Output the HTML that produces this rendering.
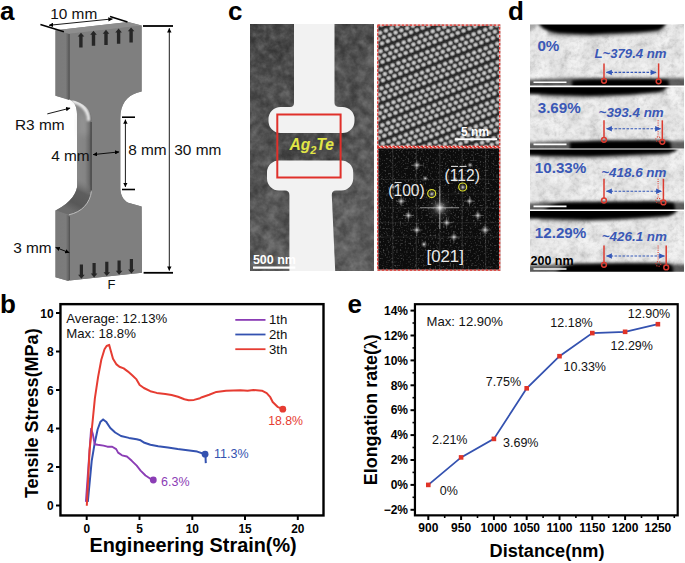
<!DOCTYPE html>
<html><head><meta charset="utf-8">
<style>
html,body{margin:0;padding:0;background:#fff;}
body{width:685px;height:563px;overflow:hidden;}
svg{display:block;font-family:"Liberation Sans",sans-serif;}
</style></head>
<body>
<svg width="685" height="563" viewBox="0 0 685 563">
<defs>
<marker id="ah" viewBox="0 0 10 10" refX="9.5" refY="5" markerUnits="userSpaceOnUse" markerWidth="4.6" markerHeight="4.4" orient="auto-start-reverse"><path d="M0,0 L10,5 L0,10 z" fill="#000"/></marker>
</defs>
<rect width="685" height="563" fill="#fff"/>

<!-- ============ PANEL LABELS ============ -->
<g font-weight="bold" font-size="26" fill="#000">
<text x="0" y="20">a</text>
<text x="228" y="20.4">c</text>
<text x="508" y="19.5">d</text>
<text x="0" y="312.5">b</text>
<text x="347.5" y="313.2">e</text>
</g>


<!-- ============ PANEL A ============ -->
<g id="panela">
<defs>
<linearGradient id="sideg" x1="0" x2="1" y1="0" y2="0">
<stop offset="0" stop-color="#7a7a7a"/><stop offset="0.75" stop-color="#7c7c7c"/><stop offset="1" stop-color="#5c5c5c"/>
</linearGradient>
<linearGradient id="sideg2" gradientUnits="userSpaceOnUse" x1="77" x2="91.6" y1="0" y2="0">
<stop offset="0" stop-color="#888"/><stop offset="0.55" stop-color="#848484"/><stop offset="0.82" stop-color="#6c6c6c"/><stop offset="1" stop-color="#505050"/>
</linearGradient>
<filter id="hlb" x="-0.5" y="-0.5" width="2" height="2"><feGaussianBlur stdDeviation="0.8"/></filter><filter id="hlb2" x="-0.5" y="-0.5" width="2" height="2"><feGaussianBlur stdDeviation="3"/></filter>
<linearGradient id="hl" gradientUnits="userSpaceOnUse" x1="70" y1="112" x2="90" y2="104">
<stop offset="0" stop-color="#8c8c8c"/><stop offset="0.35" stop-color="#a8a8a8"/><stop offset="0.65" stop-color="#eaeaea"/><stop offset="0.82" stop-color="#d0d0d0"/><stop offset="1" stop-color="#707070"/>
</linearGradient>
<linearGradient id="lowfil" gradientUnits="userSpaceOnUse" x1="84" y1="181" x2="70" y2="210">
<stop offset="0" stop-color="#7a7a7a" stop-opacity="0"/><stop offset="0.35" stop-color="#5e5e5e"/><stop offset="0.75" stop-color="#585858"/><stop offset="1" stop-color="#6c6c6c"/>
</linearGradient>
</defs>
<!-- silhouette / side faces -->
<path d="M55.5,30.2 L128.2,22 L141.6,25.5 L141.6,91.4 L137,92.8 C127,96 120.4,104 120.3,118 L120.3,189 C120.8,197 125,202 130,203.3 L141.6,206.6 L142,272.8 L69.3,280.6 L67.7,280.8 L55.5,277.3 L55.5,210.5 C72,202 77,192 77.5,183.9 L77,114 C77,105 73,100.5 68.5,99.2 L55.5,95.7 Z" fill="#7b7b7b"/>
<!-- upper grip side -->
<path d="M55.5,30.2 L69,33.7 L69,100 L55.5,95.7 Z" fill="url(#sideg)"/>
<!-- narrow side -->
<rect x="77" y="110" width="14.4" height="82" fill="url(#sideg2)"/>
<!-- upper fillet highlight -->
<path d="M68.5,99.2 C74,101 77,106 77,114 L77,121 L91.4,121 L91.4,118 C90.5,110 85,103 70.5,99.8 Z" fill="url(#sideg2)"/>
<path d="M72,101 C81,103.2 86.6,107.6 88.4,116.5 L88.6,121" fill="none" stroke="#eeeeee" stroke-width="3.4" filter="url(#hlb)"/>
<path d="M79,112 L88,118 L88,135 L79,135 Z" fill="#b0b0b0" opacity="0.35" filter="url(#hlb2)"/>
<!-- lower fillet -->
<path d="M77,178 L77.5,183.9 C77,192 72,202 55.7,210.5 L68.9,214.8 C82,212 90,203 91.4,191.3 L91.4,178 Z" fill="url(#lowfil)"/>
<!-- lower grip side -->
<path d="M55.5,210.3 L69.3,216.1 L69.3,280.6 L67.7,280.8 L55.5,277.3 Z" fill="url(#sideg)"/>
<!-- front face -->
<path d="M69.6,33.7 L141.6,25.5 L141.6,91.4 L137,92.8 C127,96 120.4,104 120.3,118 L120.3,189 C120.8,197 125,202 130,203.3 L141.6,206.6 L142,272.8 L69.8,280.6 L69.8,215 C82,212.2 90.2,203 91.6,191.3 L91.6,118 C90.7,110 85,103 70.5,99.8 L69.6,99.6 Z" fill="#7f7f7f"/>
<!-- top face -->
<path d="M55.5,30.2 L128.2,22 L141.6,25.5 L69,33.7 Z" fill="#8e8e8e"/>
<!-- edge lines -->
<line x1="69.3" y1="34" x2="69.3" y2="99" stroke="#555" stroke-width="1"/>
<line x1="91.2" y1="122" x2="91.2" y2="190" stroke="#4a4a4a" stroke-width="1.2"/>
<line x1="69.5" y1="216.5" x2="69.5" y2="280" stroke="#555" stroke-width="1"/>
<path d="M68.9,214.8 C82,212 90,203 91.4,191.3" fill="none" stroke="#cfcfcf" stroke-width="0.8"/>
<!-- arrows up -->
<g fill="#262626">
<path d="M79.2,47.6 L79.2,36.6 L77.7,36.6 L81,32.7 L84.3,36.6 L82.6,36.6 L82.6,47.6 Z"/>
<path d="M91.8,45.8 L91.8,34.7 L90.2,34.7 L93.5,30.8 L96.8,34.7 L95.2,34.7 L95.2,45.8 Z"/>
<path d="M104.3,45 L104.3,33.7 L102.7,33.7 L106,29.8 L109.3,33.7 L107.7,33.7 L107.7,45 Z"/>
<path d="M116.9,43.8 L116.9,32.5 L115.3,32.5 L118.6,28.6 L121.9,32.5 L120.3,32.5 L120.3,43.8 Z"/>
<path d="M129.4,42.5 L129.4,31.3 L127.8,31.3 L131.1,27.4 L134.4,31.3 L132.8,31.3 L132.8,42.5 Z"/>
</g>
<!-- arrows down -->
<g fill="#262626">
<path d="M79.8,264.4 L79.8,274.8 L78.1,274.8 L81.4,278.7 L84.7,274.8 L83,274.8 L83,264.4 Z"/>
<path d="M92.5,263.1 L92.5,273.5 L90.8,273.5 L94.1,277.4 L97.4,273.5 L95.7,273.5 L95.7,263.1 Z"/>
<path d="M105.2,261.8 L105.2,272.2 L103.5,272.2 L106.8,276.1 L110.1,272.2 L108.4,272.2 L108.4,261.8 Z"/>
<path d="M117.5,260.4 L117.5,270.8 L115.8,270.8 L119.1,274.7 L122.4,270.8 L120.7,270.8 L120.7,260.4 Z"/>
<path d="M129.8,259.1 L129.8,269.5 L128.1,269.5 L131.4,273.4 L134.7,269.5 L133,269.5 L133,259.1 Z"/>
</g>
<!-- dimension lines -->
<g stroke="#000" fill="none">
<line x1="40.4" y1="24.5" x2="63.9" y2="31.8" stroke-width="1.6"/>
<line x1="110" y1="16.5" x2="127.5" y2="22" stroke-width="1.6"/>
<line x1="49" y1="25.3" x2="112.5" y2="18.9" stroke-width="0.9" marker-start="url(#ah)" marker-end="url(#ah)"/>
<line x1="143" y1="26" x2="173" y2="26" stroke-width="1.8"/>
<line x1="143.6" y1="272.8" x2="173" y2="272.8" stroke-width="1.8"/>
<line x1="169.3" y1="28.3" x2="169.3" y2="270.6" stroke-width="0.9" marker-start="url(#ah)" marker-end="url(#ah)"/>
<line x1="122" y1="117.2" x2="135" y2="117.2" stroke-width="1.6"/>
<line x1="122" y1="189.5" x2="135" y2="189.5" stroke-width="1.6"/>
<line x1="125.4" y1="119.6" x2="125.4" y2="186.9" stroke-width="0.9" marker-start="url(#ah)" marker-end="url(#ah)"/>
<line x1="93.1" y1="154.6" x2="119.1" y2="151.9" stroke-width="0.9" marker-start="url(#ah)" marker-end="url(#ah)"/>
<line x1="47.3" y1="113.9" x2="70.1" y2="108.1" stroke-width="0.9" marker-end="url(#ah)"/>
<line x1="55.6" y1="247.4" x2="69.3" y2="252.7" stroke-width="0.9" marker-start="url(#ah)" marker-end="url(#ah)"/>
</g>
<g font-size="15.4" fill="#111">
<text x="50.2" y="19.4">10 mm</text>
<text x="15" y="129.8">R3 mm</text>
<text x="51.2" y="160.6">4 mm</text>
<text x="128.2" y="154.6">8 mm</text>
<text x="174.3" y="154.6">30 mm</text>
<text x="13.2" y="252.9">3 mm</text>
<text x="107.5" y="289" font-size="13">F</text>
</g>
</g>


<!-- ============ PANEL C ============ -->
<g id="panelc">
<defs>
<filter id="tn" x="0" y="0" width="1" height="1" color-interpolation-filters="sRGB">
<feTurbulence type="fractalNoise" baseFrequency="0.18" numOctaves="3" seed="3" result="n"/>
<feColorMatrix type="matrix" values="0 0 0 0 0.5  0 0 0 0 0.5  0 0 0 0 0.5  0.9 0 0 0 -0.35"/>
</filter>
<filter id="tn2" x="0" y="0" width="1" height="1" color-interpolation-filters="sRGB">
<feTurbulence type="fractalNoise" baseFrequency="0.05" numOctaves="2" seed="7"/>
<feColorMatrix type="matrix" values="0 0 0 0 0  0 0 0 0 0  0 0 0 0 0  -1.2 0 0 0 0.75"/>
</filter>
<filter id="tn3" x="0" y="0" width="1" height="1" color-interpolation-filters="sRGB">
<feTurbulence type="fractalNoise" baseFrequency="0.12" numOctaves="3" seed="21"/>
<feColorMatrix type="matrix" values="1.5 0 0 0 -0.25  1.5 0 0 0 -0.25  1.5 0 0 0 -0.25  0 0 0 0 1"/>
</filter>
<filter id="fftn" x="0" y="0" width="1" height="1" color-interpolation-filters="sRGB">
<feTurbulence type="fractalNoise" baseFrequency="0.6" numOctaves="1" seed="4"/>
<feColorMatrix type="matrix" values="0 0 0 0 0.8  0 0 0 0 0.8  0 0 0 0 0.8  2.5 0 0 0 -1.35"/>
</filter>
<filter id="bl1"><feGaussianBlur stdDeviation="0.6"/></filter><filter id="bl3" x="-0.3" y="-0.3" width="1.6" height="1.6"><feGaussianBlur stdDeviation="4"/></filter>
<clipPath id="ctem"><rect x="250" y="24" width="124" height="247"/></clipPath>
<radialGradient id="blob"><stop offset="0" stop-color="#dcdcdc"/><stop offset="0.5" stop-color="#b0b0b0"/><stop offset="0.8" stop-color="#7a7a7a" stop-opacity="0.8"/><stop offset="1" stop-color="#505050" stop-opacity="0"/></radialGradient>
<pattern id="lat" width="6.2" height="17.4" patternUnits="userSpaceOnUse" patternTransform="translate(378,30) rotate(-21)">
<rect width="6.2" height="17.4" fill="#303030"/>
<ellipse cx="1" cy="3.4" rx="3.1" ry="2.9" fill="url(#blob)"/>
<ellipse cx="7.2" cy="3.4" rx="3.1" ry="2.9" fill="url(#blob)"/>
<ellipse cx="3.1" cy="8.7" rx="3.1" ry="2.9" fill="url(#blob)"/>
<ellipse cx="5.2" cy="14" rx="3.1" ry="2.9" fill="url(#blob)"/>
<ellipse cx="-1" cy="14" rx="3.1" ry="2.9" fill="url(#blob)"/>
</pattern>
<pattern id="stripes" width="200" height="17.4" patternUnits="userSpaceOnUse" patternTransform="translate(378,30) rotate(-21)">
<rect y="16" width="200" height="2.6" fill="#000" opacity="0.18"/>
</pattern>
<filter id="lblur" x="0" y="0" width="1" height="1"><feGaussianBlur stdDeviation="0.65"/></filter>
<radialGradient id="spot"><stop offset="0" stop-color="#fff" stop-opacity="0.9"/><stop offset="0.4" stop-color="#ccc" stop-opacity="0.45"/><stop offset="1" stop-color="#888" stop-opacity="0"/></radialGradient>
</defs>
<!-- left TEM -->
<g clip-path="url(#ctem)">
<linearGradient id="temg" x1="0" y1="0" x2="0.35" y2="1">
<stop offset="0" stop-color="#464646"/><stop offset="0.45" stop-color="#555"/><stop offset="1" stop-color="#626262"/>
</linearGradient>
<rect x="250" y="24" width="124" height="247" fill="url(#temg)"/>
<rect x="276" y="131" width="70" height="31" fill="#3a3a3a" opacity="0.5" filter="url(#bl3)"/>
<rect x="250" y="24" width="124" height="247" filter="url(#tn2)" opacity="0.4"/>
<rect x="250" y="24" width="124" height="247" filter="url(#tn)" opacity="0.5"/>
<rect x="250" y="24" width="124" height="247" filter="url(#tn3)" style="mix-blend-mode:soft-light" opacity="0.35"/>
<path d="M294,24 L334.5,24 L334.5,103 Q334.5,107 340,107 L342.5,107 A12,12 0 0 1 354.5,119 L354.5,121 A12,12 0 0 1 342.5,133 L280.5,133 A12,12 0 0 1 268.5,121 L268.5,119 A12,12 0 0 1 280.5,107 L290,107 Q294,107 294,103 Z" fill="#f2f2f2"/>
<path d="M267,172 A12,12 0 0 1 279,160.4 L341,160.4 A12,12 0 0 1 353.2,172.4 L353.2,178.5 A12,12 0 0 1 341.2,190.5 L336,190.5 Q331.8,190.5 331.8,195 L335.2,271 L289.4,271 L289.4,195 Q289.4,190.5 285,190.5 L279,190.5 A12,12 0 0 1 267,178.5 Z" fill="#f2f2f2"/>
</g>
<rect x="277.3" y="114.5" width="63.3" height="63" fill="none" stroke="#e0302a" stroke-width="2"/>
<text x="289.4" y="150.2" font-weight="bold" font-style="italic" font-size="15.6" fill="#e2e646">Ag<tspan font-size="11" dy="3.6">2</tspan><tspan dy="-3.6">Te</tspan></text>
<line x1="253" y1="267.7" x2="295.3" y2="267.7" stroke="#fff" stroke-width="2.2"/>
<text x="252.9" y="263.8" font-weight="bold" font-size="12.5" fill="#fff">500 nm</text>

<!-- HRTEM -->
<g>
<g filter="url(#lblur)"><rect x="377.2" y="24.6" width="123" height="122.3" fill="url(#lat)"/>
<rect x="377.2" y="24.6" width="123" height="122.3" fill="url(#stripes)"/></g>
<line x1="455.1" y1="139.3" x2="497.1" y2="139.3" stroke="#fff" stroke-width="2"/>
<text x="461.1" y="135.6" font-weight="bold" font-size="12" fill="#fff">5 nm</text>
<rect x="377.7" y="25.1" width="122" height="121.3" fill="none" stroke="#f4d0cc" stroke-width="1.2"/><rect x="377.7" y="25.1" width="122" height="121.3" fill="none" stroke="#e0302a" stroke-width="1.2" stroke-dasharray="2.5,1.5"/>
</g>

<!-- FFT -->
<g>
<rect x="377.2" y="147.2" width="123" height="123.5" fill="#0c0c0c"/>
<rect x="377.2" y="147.2" width="123" height="123.5" filter="url(#fftn)" opacity="0.5"/>
<g stroke="#fff" stroke-width="0.8" opacity="0.16">
<line x1="392.8" y1="148" x2="392.8" y2="270"/>
<line x1="416.3" y1="148" x2="416.3" y2="270"/>
<line x1="439.8" y1="148" x2="439.8" y2="270"/>
<line x1="462.2" y1="148" x2="462.2" y2="270"/>
<line x1="485.7" y1="148" x2="485.7" y2="270"/>
</g>
<g stroke="#fff" stroke-width="0.8" opacity="0.09">
<line x1="378" y1="207.8" x2="500" y2="207.8"/>
<line x1="378" y1="194" x2="500" y2="194"/>
<line x1="378" y1="222.7" x2="500" y2="222.7"/>
<line x1="378" y1="179.5" x2="500" y2="179.5"/>
<line x1="378" y1="237" x2="500" y2="237"/>
</g>
<circle cx="439.8" cy="207.8" r="14" fill="url(#spot)" opacity="0.35"/>
<g stroke="#d8d8d8" stroke-width="1.1" opacity="0.6">
<line x1="420" y1="207.8" x2="459" y2="207.8"/>
<line x1="439.8" y1="186" x2="439.8" y2="229"/>
</g>
<circle cx="439.8" cy="207.8" r="7" fill="url(#spot)"/>
<g fill="url(#spot)">
<circle cx="416.8" cy="165.2" r="4"/>
<circle cx="425.2" cy="178.4" r="3"/>
<circle cx="401.2" cy="201.2" r="4"/>
<circle cx="408.4" cy="215.5" r="4"/>
<circle cx="416.8" cy="230" r="4"/>
<circle cx="424" cy="244.3" r="3.5"/>
<circle cx="446.7" cy="222.7" r="4"/>
<circle cx="453.9" cy="237.1" r="4"/>
<circle cx="469.5" cy="201.2" r="3.5"/>
<circle cx="477.9" cy="215.5" r="4"/>
<circle cx="485.1" cy="230" r="4.5"/>
<circle cx="431.9" cy="194" r="3.5"/>
<circle cx="462.8" cy="187.2" r="3.5"/>
<circle cx="455" cy="179.5" r="3"/>
<circle cx="393" cy="187" r="3"/>
<circle cx="470" cy="165" r="3"/>
</g>
<g stroke="#bbb" stroke-width="0.6" opacity="0.6">
<line x1="411" y1="165.2" x2="422.6" y2="165.2"/><line x1="416.8" y1="160" x2="416.8" y2="170.4"/>
<line x1="396" y1="201.2" x2="406.4" y2="201.2"/><line x1="401.2" y1="196" x2="401.2" y2="206.4"/>
<line x1="403" y1="215.5" x2="413.8" y2="215.5"/><line x1="408.4" y1="210" x2="408.4" y2="221"/>
<line x1="411" y1="230" x2="422.6" y2="230"/><line x1="416.8" y1="224" x2="416.8" y2="236"/>
<line x1="441" y1="222.7" x2="452.4" y2="222.7"/><line x1="446.7" y1="217" x2="446.7" y2="228.4"/>
<line x1="448" y1="237.1" x2="459.8" y2="237.1"/><line x1="453.9" y1="231" x2="453.9" y2="243"/>
<line x1="472" y1="215.5" x2="483.8" y2="215.5"/><line x1="477.9" y1="210" x2="477.9" y2="221"/>
<line x1="479" y1="230" x2="491.2" y2="230"/><line x1="485.1" y1="224" x2="485.1" y2="236"/>
<line x1="464" y1="201.2" x2="475" y2="201.2"/><line x1="469.5" y1="196" x2="469.5" y2="206.4"/>
</g>
<circle cx="431.7" cy="193.6" r="4" fill="none" stroke="#dde030" stroke-width="1.2"/>
<circle cx="462.7" cy="187" r="4" fill="none" stroke="#dde030" stroke-width="1.2"/>
<g fill="#e8e8e8" font-size="15.6">
<text x="388.3" y="196.3">(100)</text>
<text x="444.6" y="180.6">(112)</text>
<text x="426.5" y="262.3" font-size="16.8">[021]</text>
</g>
<g stroke="#e8e8e8" stroke-width="1">
<line x1="394.6" y1="182.6" x2="401.6" y2="182.6"/>
<line x1="451" y1="166.4" x2="458" y2="166.4"/>
<line x1="459.6" y1="166.4" x2="466.6" y2="166.4"/>
</g>
<rect x="377.7" y="147.7" width="122" height="122.5" fill="none" stroke="#f4d0cc" stroke-width="1.2"/><rect x="377.7" y="147.7" width="122" height="122.5" fill="none" stroke="#e0302a" stroke-width="1.2" stroke-dasharray="2.5,1.5"/>
</g>
</g>


<!-- ============ PANEL D ============ -->
<g id="paneld">
<defs>
<filter id="dn" x="0" y="0" width="1" height="1" color-interpolation-filters="sRGB">
<feTurbulence type="fractalNoise" baseFrequency="0.28" numOctaves="3" seed="11"/>
<feColorMatrix type="matrix" values="0 0 0 0 0.6  0 0 0 0 0.6  0 0 0 0 0.6  1.4 0 0 0 -0.55"/>
</filter>
<filter id="dn2" x="0" y="0" width="1" height="1" color-interpolation-filters="sRGB">
<feTurbulence type="fractalNoise" baseFrequency="0.06" numOctaves="2" seed="5"/>
<feColorMatrix type="matrix" values="0 0 0 0 1  0 0 0 0 1  0 0 0 0 1  1.6 0 0 0 -0.55"/>
</filter>
<filter id="dn3" x="0" y="0" width="1" height="1" color-interpolation-filters="sRGB">
<feTurbulence type="fractalNoise" baseFrequency="0.1" numOctaves="3" seed="9"/>
<feColorMatrix type="matrix" values="1.8 0 0 0 -0.4  1.8 0 0 0 -0.4  1.8 0 0 0 -0.4  0 0 0 0 1"/>
</filter>
<filter id="bb" x="-0.1" y="-0.5" width="1.2" height="2"><feGaussianBlur stdDeviation="1.6"/></filter>
<clipPath id="cs1"><rect x="530" y="24.4" width="154" height="61"/></clipPath>
<clipPath id="cs2"><rect x="530" y="87.2" width="154" height="61.3"/></clipPath>
<clipPath id="cs3"><rect x="530" y="149.6" width="154" height="60"/></clipPath>
<clipPath id="cs4"><rect x="530" y="210.9" width="154" height="60.9"/></clipPath>
<marker id="bah" viewBox="0 0 10 10" refX="9" refY="5" markerUnits="userSpaceOnUse" markerWidth="6.5" markerHeight="6" orient="auto-start-reverse"><path d="M0,0.5 L10,5 L0,9.5 z" fill="#3558b8"/></marker>
</defs>
<!-- strip 1 -->
<g clip-path="url(#cs1)">
<rect x="530" y="24.4" width="154" height="61" fill="#e3e3e3"/>
<rect x="530" y="24.4" width="154" height="61" filter="url(#dn2)" opacity="0.75"/>
<rect x="530" y="24.4" width="154" height="61" filter="url(#dn)" opacity="0.35"/>
<rect x="530" y="24.4" width="154" height="61" filter="url(#dn3)" style="mix-blend-mode:soft-light" opacity="0.6"/>
<g filter="url(#bb)" fill="#060606">
<path d="M526,18 L541,18 Q538,26 530,31 L526,32 Z" opacity="0.3"/>
<path d="M536,18 L668,18 Q667,26 660,30 Q650,32 625,33 L590,34.5 L560,33.5 Q546,32 540,26 Z"/>
<path d="M548,36 Q600,40 660,33 L660,30 L548,30 Z" opacity="0.25"/>
<path d="M528,79.5 L570,78 L690,78 L690,90 L528,90 Z" opacity="0.6"/>
<path d="M572,80.5 Q585,79 600,79.2 L650,79 Q664,79 668,80 L670,90 L572,90 Z"/>
</g>
</g>
<!-- strip 2 -->
<g clip-path="url(#cs2)">
<rect x="530" y="87.2" width="154" height="61.3" fill="#e3e3e3"/>
<rect x="530" y="87.2" width="154" height="61.3" filter="url(#dn2)" opacity="0.75"/>
<rect x="530" y="87.2" width="154" height="61.3" filter="url(#dn)" opacity="0.35"/>
<rect x="530" y="87.2" width="154" height="61.3" filter="url(#dn3)" style="mix-blend-mode:soft-light" opacity="0.6"/>
<g filter="url(#bb)" fill="#060606">
<path d="M526,82 L670,82 Q668,90 658,92 L630,94.5 L590,96 L550,95 Q535,94 526,94 Z"/>
<path d="M540,98 Q600,101 665,93 L665,90 L540,90 Z" opacity="0.25"/>
<path d="M528,142.5 L565,141 L690,141 L690,152 L528,152 Z" opacity="0.6"/>
<path d="M570,142 Q590,140.5 610,140.3 L650,140 Q666,140 670,141 L672,152 L570,152 Z"/>
</g>
</g>
<!-- strip 3 -->
<g clip-path="url(#cs3)">
<rect x="530" y="149.6" width="154" height="60" fill="#e3e3e3"/>
<rect x="530" y="149.6" width="154" height="60" filter="url(#dn2)" opacity="0.75"/>
<rect x="530" y="149.6" width="154" height="60" filter="url(#dn)" opacity="0.35"/>
<rect x="530" y="149.6" width="154" height="60" filter="url(#dn3)" style="mix-blend-mode:soft-light" opacity="0.6"/>
<g filter="url(#bb)" fill="#060606">
<path d="M526,145 L678,145 Q678,152 668,153.5 L630,155 L590,156.5 L550,156 Q535,155.5 526,155.5 Z"/>
<path d="M540,159 Q600,161 670,155 L670,152 L540,152 Z" opacity="0.25"/>
<path d="M528,203.5 L545,202 L690,202 L690,214 L528,214 Z" opacity="0.6"/>
<path d="M542,214 Q548,203 565,202 L620,201.5 L660,201.3 Q672,201.5 674,203 L676,214 Z"/>
</g>
</g>
<!-- strip 4 -->
<g clip-path="url(#cs4)">
<rect x="530" y="210.9" width="154" height="60.9" fill="#e3e3e3"/>
<rect x="530" y="210.9" width="154" height="60.9" filter="url(#dn2)" opacity="0.75"/>
<rect x="530" y="210.9" width="154" height="60.9" filter="url(#dn)" opacity="0.35"/>
<rect x="530" y="210.9" width="154" height="60.9" filter="url(#dn3)" style="mix-blend-mode:soft-light" opacity="0.6"/>
<g filter="url(#bb)" fill="#060606">
<path d="M526,206 L678,206 Q678,214 668,216 L630,218.5 L590,220 L550,219 Q535,218.5 526,218.5 Z"/>
<path d="M540,222 Q600,224 670,217 L670,214 L540,214 Z" opacity="0.25"/>
<path d="M528,265.5 L560,264.5 L690,264.5 L690,276 L528,276 Z" opacity="0.6"/>
<path d="M555,276 Q560,264.5 575,263.5 L620,263 L660,263 Q670,263.2 672,265 L674,276 Z"/>
</g>
</g>
<!-- scale bars -->
<g stroke="#fff" stroke-width="1.6">
<line x1="533.5" y1="82.3" x2="566.5" y2="82.3"/>
<line x1="533.5" y1="144.4" x2="566.5" y2="144.4"/>
<line x1="533.5" y1="206.4" x2="566.5" y2="206.4"/>
<line x1="533.5" y1="269" x2="566.5" y2="269"/>
</g>
<g font-weight="bold" fill="#3a58b6" font-size="15.2">
<text x="537.4" y="50.8">0%</text>
<text x="537.7" y="113">3.69%</text>
<text x="534.8" y="173.3">10.33%</text>
<text x="534.8" y="238">12.29%</text>
</g>
<g font-weight="bold" font-style="italic" fill="#3a58b6" font-size="13.4">
<text x="594.4" y="57.8" font-size="13.2">L~379.4 nm</text>
<text x="598.6" y="116.6">~393.4 nm</text>
<text x="601.3" y="176.5">~418.6 nm</text>
<text x="601.8" y="240.8">~426.1 nm</text>
</g>
<text x="530.5" y="264.8" font-weight="bold" font-size="12.5" fill="#000">200 nm</text>
<!-- red markers -->
<g stroke="#dc3b30" stroke-width="1.5" fill="none">
<line x1="604" y1="63.4" x2="604" y2="78.5"/><circle cx="604" cy="80.8" r="2.4"/>
<line x1="658.6" y1="63.4" x2="658.6" y2="79.0"/><circle cx="658.6" cy="81.3" r="2.4"/>
<line x1="604" y1="120.3" x2="604" y2="137.5"/><circle cx="604" cy="139.8" r="2.4"/>
<line x1="662.3" y1="120.3" x2="662.3" y2="139.5"/><circle cx="662.3" cy="141.8" r="2.4"/>
<line x1="604" y1="178.8" x2="604" y2="198.2"/><circle cx="604" cy="200.5" r="2.4"/>
<line x1="663.4" y1="178.8" x2="663.4" y2="200.1"/><circle cx="663.4" cy="202.4" r="2.4"/>
<line x1="604" y1="245.4" x2="604" y2="262.5"/><circle cx="604" cy="264.8" r="2.4"/>
<line x1="666.2" y1="245.4" x2="666.2" y2="265.1"/><circle cx="666.2" cy="267.4" r="2.4"/>
</g>
<g stroke="#dc3b30" stroke-width="1.1" fill="none" stroke-dasharray="1,1.2">
<line x1="658.1" y1="120.3" x2="658.1" y2="136.5"/>
<line x1="658.1" y1="178.8" x2="658.1" y2="197.5"/>
<line x1="658.1" y1="245.4" x2="658.1" y2="261"/>
<circle cx="658.3" cy="139.2" r="2.4"/>
<circle cx="658.3" cy="200.6" r="2.4"/>
<circle cx="658.4" cy="264" r="2.4"/>
</g>
<!-- blue arrows -->
<g stroke="#3558b8" stroke-width="1.1" stroke-dasharray="2.6,1.4" fill="none">
<line x1="606.5" y1="72.4" x2="656" y2="72.4" marker-start="url(#bah)" marker-end="url(#bah)"/>
<line x1="606.5" y1="128.7" x2="660.5" y2="128.7" marker-start="url(#bah)" marker-end="url(#bah)"/>
<line x1="606.5" y1="191.3" x2="661.5" y2="191.3" marker-start="url(#bah)" marker-end="url(#bah)"/>
<line x1="606.5" y1="256" x2="664.5" y2="256" marker-start="url(#bah)" marker-end="url(#bah)"/>
</g>
</g>

<!-- ============ PANEL B ============ -->
<g id="panelb">
<rect x="60.45" y="304.15" width="263.05" height="211.3" fill="none" stroke="#000" stroke-width="2.4"/>
<g stroke="#000" stroke-width="2">
<line x1="56" y1="505.5" x2="61" y2="505.5"/>
<line x1="56" y1="467" x2="61" y2="467"/>
<line x1="56" y1="428.5" x2="61" y2="428.5"/>
<line x1="56" y1="390" x2="61" y2="390"/>
<line x1="56" y1="351.5" x2="61" y2="351.5"/>
<line x1="56" y1="313" x2="61" y2="313"/>
<line x1="86.7" y1="515" x2="86.7" y2="520"/>
<line x1="139.5" y1="515" x2="139.5" y2="520"/>
<line x1="192.3" y1="515" x2="192.3" y2="520"/>
<line x1="245" y1="515" x2="245" y2="520"/>
<line x1="297.8" y1="515" x2="297.8" y2="520"/>
</g>
<g font-weight="bold" font-size="11.9" fill="#000" text-anchor="end">
<text x="53.5" y="510.2">0</text>
<text x="53.5" y="471.7">2</text>
<text x="53.5" y="433.2">4</text>
<text x="53.5" y="394.7">6</text>
<text x="53.5" y="356.2">8</text>
<text x="53.5" y="317.7">10</text>
</g>
<g font-weight="bold" font-size="11.9" fill="#000" text-anchor="middle">
<text x="86.7" y="532.5">0</text>
<text x="139.5" y="532.5">5</text>
<text x="192.3" y="532.5">10</text>
<text x="245" y="532.5">15</text>
<text x="297.8" y="532.5">20</text>
</g>
<text x="89.4" y="551.5" font-weight="bold" font-size="19.85" fill="#000">Engineering Strain(%)</text>
<text transform="translate(37.8,498.1) rotate(-90)" font-weight="bold" font-size="18" fill="#000">Tensile Stress(MPa)</text>
<g font-size="13.2" fill="#111">
<text x="66.3" y="322.5">Average: 12.13%</text>
<text x="66.3" y="338.2">Max: 18.8%</text>
<text x="269" y="324.3">1th</text>
<text x="269" y="338.9">2th</text>
<text x="269" y="353.6">3th</text>
</g>
<line x1="235.3" y1="319.9" x2="265.5" y2="319.9" stroke="#8b3db5" stroke-width="1.8"/>
<line x1="235.3" y1="334.5" x2="265.5" y2="334.5" stroke="#3452b0" stroke-width="1.8"/>
<line x1="235.3" y1="349.2" x2="265.5" y2="349.2" stroke="#e63c32" stroke-width="1.8"/>


<polyline fill="none" stroke="#3452b0" stroke-width="2" stroke-linejoin="round" points="87.8,501.9 91.7,460.8 94.7,443.2 97.6,429.5 100.5,421.7 103.1,419.4 106.4,422.1 110.3,428 115.2,432.5 121,436 128.9,437.9 136.7,439.3 140.6,440.3 144.5,442.8 150.4,444.8 158.2,446.2 167.9,447.5 177.7,449.1 189.4,450.5 197.2,451.6 205.1,454.2"/>
<line x1="205.4" y1="454.2" x2="205.8" y2="463.1" stroke="#3452b0" stroke-width="2"/>
<circle cx="205.1" cy="454.2" r="3.4" fill="#3452b0"/>
<polyline fill="none" stroke="#8b3db5" stroke-width="1.9" stroke-linejoin="round" points="85.9,501.9 91.1,428.6 92.7,433.5 94.7,444.2 97.6,444.8 103.5,445.6 107.4,446.7 112.2,446.7 116.2,449.1 118.1,452.6 122,455.3 126.9,456.5 131.8,460.8 136.7,465.7 140.6,470.6 145.5,475.5 150.4,478.8 153.3,480"/>
<circle cx="153.3" cy="480" r="3.4" fill="#8b3db5"/>
<polyline fill="none" stroke="#e63c32" stroke-width="2" stroke-linejoin="round" points="86.8,505.8 89.6,450 92.8,419.5 94.9,398.2 98.1,376.9 101.3,359.8 104.5,349.2 106.6,346 109.2,344.9 110.9,351.3 113,358.8 116.2,364.1 119.4,366.7 123.7,368.4 128,371.6 132.2,375.2 136.5,379.4 139.7,385 143.9,388 150.3,391.2 156.7,392.9 165.3,393.9 171.6,395 178,396.7 184.4,399.3 188.7,400.3 194,399.9 200,398.2 202,397.2 209.2,394.8 216.4,391.9 226,390.7 240.4,390.2 247.6,390.7 253.5,390 261.9,390.7 266.7,393.1 270.3,397.2 272.7,402 277.5,406.8 282.8,409.2"/>
<circle cx="282.8" cy="409.2" r="3.4" fill="#e63c32"/>
<text x="161.1" y="485.6" font-size="12.5" fill="#8b3db5">6.3%</text>
<text x="214" y="458.3" font-size="12.5" fill="#3452b0">11.3%</text>
<text x="268.2" y="425.2" font-size="12.3" fill="#e63c32">18.8%</text>
</g>

<!-- ============ PANEL E ============ -->
<g id="panele">
<rect x="414.95" y="304.2" width="262.75" height="211.15" fill="none" stroke="#000" stroke-width="2.2"/>
<g stroke="#000" stroke-width="2">
<line x1="410.5" y1="509.8" x2="415" y2="509.8"/>
<line x1="410.5" y1="484.9" x2="415" y2="484.9"/>
<line x1="410.5" y1="460" x2="415" y2="460"/>
<line x1="410.5" y1="435.1" x2="415" y2="435.1"/>
<line x1="410.5" y1="410.2" x2="415" y2="410.2"/>
<line x1="410.5" y1="385.3" x2="415" y2="385.3"/>
<line x1="410.5" y1="360.4" x2="415" y2="360.4"/>
<line x1="410.5" y1="335.5" x2="415" y2="335.5"/>
<line x1="410.5" y1="310.6" x2="415" y2="310.6"/>
</g>
<g stroke="#000" stroke-width="1.6">
<line x1="412.5" y1="497.3" x2="415" y2="497.3"/>
<line x1="412.5" y1="472.4" x2="415" y2="472.4"/>
<line x1="412.5" y1="447.5" x2="415" y2="447.5"/>
<line x1="412.5" y1="422.6" x2="415" y2="422.6"/>
<line x1="412.5" y1="397.7" x2="415" y2="397.7"/>
<line x1="412.5" y1="372.8" x2="415" y2="372.8"/>
<line x1="412.5" y1="347.9" x2="415" y2="347.9"/>
<line x1="412.5" y1="323" x2="415" y2="323"/>
</g>
<g stroke="#000" stroke-width="2">
<line x1="428.3" y1="515" x2="428.3" y2="520"/>
<line x1="461.1" y1="515" x2="461.1" y2="520"/>
<line x1="493.9" y1="515" x2="493.9" y2="520"/>
<line x1="526.7" y1="515" x2="526.7" y2="520"/>
<line x1="559.5" y1="515" x2="559.5" y2="520"/>
<line x1="592.3" y1="515" x2="592.3" y2="520"/>
<line x1="625.1" y1="515" x2="625.1" y2="520"/>
<line x1="657.9" y1="515" x2="657.9" y2="520"/>
</g>
<g stroke="#000" stroke-width="1.6">
<line x1="444.7" y1="515" x2="444.7" y2="518"/>
<line x1="477.5" y1="515" x2="477.5" y2="518"/>
<line x1="510.3" y1="515" x2="510.3" y2="518"/>
<line x1="543.1" y1="515" x2="543.1" y2="518"/>
<line x1="575.9" y1="515" x2="575.9" y2="518"/>
<line x1="608.7" y1="515" x2="608.7" y2="518"/>
<line x1="641.5" y1="515" x2="641.5" y2="518"/>
<line x1="674.3" y1="515" x2="674.3" y2="518"/>
</g>
<g font-weight="bold" font-size="12" fill="#000" text-anchor="end">
<text x="408" y="514">−2%</text>
<text x="408" y="489.1">0%</text>
<text x="408" y="464.2">2%</text>
<text x="408" y="439.3">4%</text>
<text x="408" y="414.4">6%</text>
<text x="408" y="389.5">8%</text>
<text x="408" y="364.6">10%</text>
<text x="408" y="339.7">12%</text>
<text x="408" y="314.8">14%</text>
</g>
<g font-weight="bold" font-size="12" fill="#000" text-anchor="middle">
<text x="428.3" y="532">900</text>
<text x="461.1" y="532">950</text>
<text x="493.9" y="532">1000</text>
<text x="526.7" y="532">1050</text>
<text x="559.5" y="532">1100</text>
<text x="592.3" y="532">1150</text>
<text x="625.1" y="532">1200</text>
<text x="657.9" y="532">1250</text>
</g>
<text x="489.6" y="556.5" font-weight="bold" font-size="18.15" fill="#000">Distance(nm)</text>
<text transform="translate(377.4,485.2) rotate(-90)" font-weight="bold" font-size="17.9" fill="#000">Elongation rate(<tspan font-family="Liberation Serif" font-weight="bold">λ</tspan>)</text>
<polyline fill="none" stroke="#3452b0" stroke-width="1.8" points="428.3,484.9 461.1,457.4 493.9,438.9 526.7,388.3 559.5,356.2 592.3,333.1 625.1,331.8 657.9,324.2"/>
<g fill="#e03428">
<rect x="426" y="482.6" width="4.6" height="4.6"/>
<rect x="458.8" y="455.1" width="4.6" height="4.6"/>
<rect x="491.6" y="436.6" width="4.6" height="4.6"/>
<rect x="524.4" y="386" width="4.6" height="4.6"/>
<rect x="557.2" y="353.9" width="4.6" height="4.6"/>
<rect x="590" y="330.8" width="4.6" height="4.6"/>
<rect x="622.8" y="329.5" width="4.6" height="4.6"/>
<rect x="655.6" y="321.9" width="4.6" height="4.6"/>
</g>
<g font-size="12.5" fill="#111">
<text x="426.6" y="326.2" font-size="13.1">Max: 12.90%</text>
<text x="439.8" y="494.9">0%</text>
<text x="432" y="444.3">2.21%</text>
<text x="503" y="447">3.69%</text>
<text x="485.7" y="385.7">7.75%</text>
<text x="563.6" y="371">10.33%</text>
<text x="550.3" y="326.7">12.18%</text>
<text x="610.5" y="349.6">12.29%</text>
<text x="627.8" y="317.6">12.90%</text>
</g>
</g>

</svg>
</body></html>
